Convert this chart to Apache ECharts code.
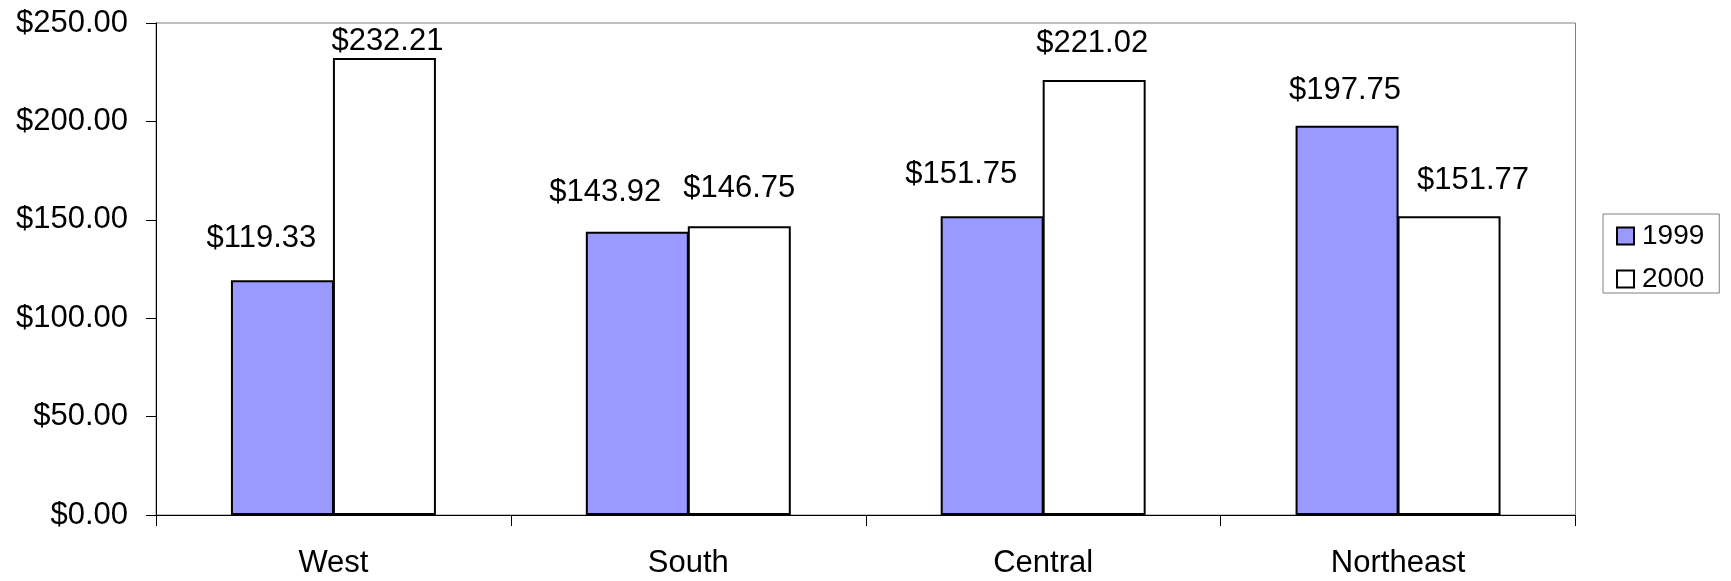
<!DOCTYPE html>
<html>
<head>
<meta charset="utf-8">
<script src="https://cdn.jsdelivr.net/npm/echarts@6/dist/echarts.min.js"></script>
<style>html,body{margin:0;padding:0;background:#fff;}#c{width:1731px;height:581px;}</style>
</head>
<body>
<div id="c"></div>
<script>
var categories = ['West', 'South', 'Central', 'Northeast'];
var seriesNames = ['1999', '2000'];
var values1999 = [119.33, 143.92, 151.75, 197.75];
var values2000 = [232.21, 146.75, 221.02, 151.77];
var yTicks = { min: 0, max: 250, interval: 50 };

// label placement nudges (layout only, not data)
var labelNudge1999 = [[-21, -5], [-32, -3], [-31, -5], [-2, 1]];
var labelNudge2000 = [[3, 20], [0, -1], [-2, 0], [24, 1]];

var FONT = "'Liberation Sans', Arial, sans-serif";

function money(v) { return '$' + Number(v).toFixed(2); }

function buildData(vals, nudges) {
  return vals.map(function (v, i) {
    return { value: v, label: { offset: nudges[i] } };
  });
}

var chart = echarts.init(document.getElementById('c'), null, { renderer: 'canvas' });
chart.setOption({
  animation: false,
  backgroundColor: '#ffffff',
  textStyle: { fontFamily: FONT },
  grid: {
    left: 156, right: 155.5, top: 23, bottom: 66,
    show: true, borderColor: '#808080', borderWidth: 1, backgroundColor: 'transparent'
  },
  legend: {
    orient: 'vertical',
    left: 1603, top: 214,
    data: seriesNames,
    icon: 'rect',
    itemWidth: 17, itemHeight: 17,
    itemGap: 15,
    padding: [8, 15, 0, 13],
    borderColor: '#808080', borderWidth: 1,
    textStyle: { fontFamily: FONT, fontSize: 28, color: '#000', padding: [0, 0, 12, 3] }
  },
  xAxis: {
    type: 'category',
    data: categories,
    axisLine: { lineStyle: { color: '#000', width: 1 } },
    axisTick: { show: true, length: 11, lineStyle: { color: '#000' } },
    axisLabel: { fontFamily: FONT, fontSize: 31, color: '#000', margin: 33 },
    splitLine: { show: false }
  },
  yAxis: {
    type: 'value',
    min: yTicks.min, max: yTicks.max, interval: yTicks.interval,
    axisLine: { show: true, lineStyle: { color: '#000', width: 1 } },
    axisTick: { show: true, length: 10, lineStyle: { color: '#000' } },
    axisLabel: { fontFamily: FONT, fontSize: 31, color: '#000', margin: 28, formatter: money },
    splitLine: { show: false }
  },
  series: [
    {
      name: seriesNames[0], type: 'bar',
      data: buildData(values1999, labelNudge1999),
      barWidth: 103, barGap: '-1%',
      itemStyle: { color: '#9999FF', borderColor: '#000', borderWidth: 2 },
      label: { show: true, position: 'top', distance: 21, fontFamily: FONT, fontSize: 31, lineHeight: 31, color: '#000',
        formatter: function (p) { return money(p.value); } }
    },
    {
      name: seriesNames[1], type: 'bar',
      data: buildData(values2000, labelNudge2000),
      barWidth: 103,
      itemStyle: { color: '#ffffff', borderColor: '#000', borderWidth: 2 },
      label: { show: true, position: 'top', distance: 21, fontFamily: FONT, fontSize: 31, lineHeight: 31, color: '#000',
        formatter: function (p) { return money(p.value); } }
    }
  ]
});
</script>
</body>
</html>
